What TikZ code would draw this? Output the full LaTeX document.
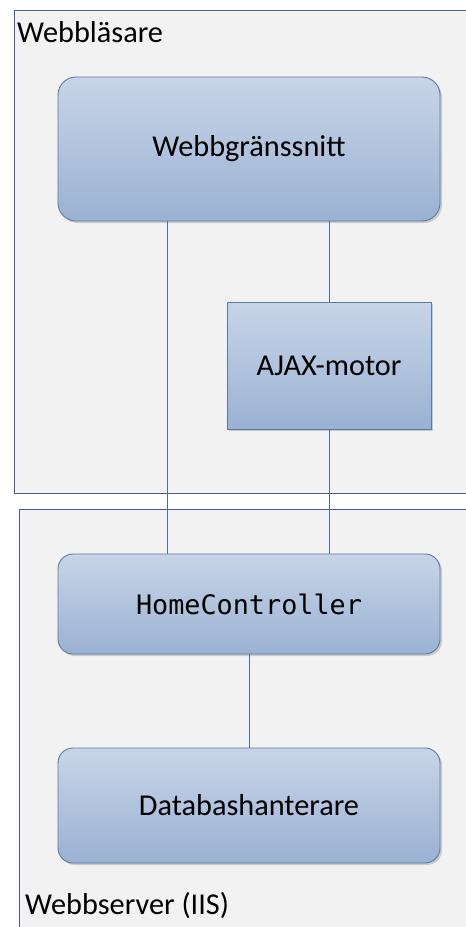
\documentclass[tikz,border=0pt]{standalone}
\usepackage{fontspec}
\setmainfont{Carlito}
\newfontfamily\codefont{DejaVu Sans Mono}
\usetikzlibrary{shadows}
\definecolor{panelfill}{HTML}{F2F2F2}
\definecolor{panelline}{HTML}{41618C}
\definecolor{boxtop}{HTML}{C8D5E8}
\definecolor{boxbot}{HTML}{9AB1D2}
\definecolor{boxline}{HTML}{5B7AA3}
\definecolor{wire}{HTML}{4D6C96}
\tikzset{
  panel/.style={draw=panelline, fill=panelfill, line width=0.9pt},
  comp/.style={draw=boxline, line width=0.9pt, top color=boxtop, bottom color=boxbot,
    inner sep=0pt, text=black, font=\fontsize{30.3}{36}\selectfont,
    drop shadow={opacity=0.35, shadow xshift=2pt, shadow yshift=-2pt}},
  wirestyle/.style={draw=wire, line width=0.9pt},
  lbl/.style={inner sep=0pt, anchor=base west, font=\fontsize{30.3}{36}\selectfont}
}
\begin{document}
\begin{tikzpicture}[x=1pt,y=-1pt]
\useasboundingbox (0,0) rectangle (466,927);
\clip (0,0) rectangle (466,927);
\fill[white] (0,0) rectangle (466,927);
\path[panel] (14,10) rectangle (490,493);
\path[panel] (19,509) rectangle (490,950);
\node[lbl] (lb1) at (17,42) {Webbläsare};
\node[lbl] (lb2) at (25,914) {Webbserver (IIS)};
\node[comp, rounded corners=18pt, minimum width=382pt, minimum height=144pt] (gui) at (249,149) {Webbgränssnitt};
\node[comp, minimum width=204pt, minimum height=127pt] (ajax) at (329,365.5) {AJAX-motor};
\node[comp, rounded corners=15pt, minimum width=382pt, minimum height=100pt, font=\codefont\fontsize{26.8}{33}\selectfont] (hc) at (249,604) {HomeController};
\node[comp, rounded corners=15pt, minimum width=382pt, minimum height=115pt] (db) at (249,805.5) {Databashanterare};
\draw[wirestyle] ([xshift=-82pt]gui.south) -- ([xshift=-82pt]hc.north);
\draw[wirestyle] ([xshift=80pt]gui.south) -- (ajax.north);
\draw[wirestyle] (ajax.south) -- ([xshift=80pt]hc.north);
\draw[wirestyle] (hc.south) -- (db.north);
\end{tikzpicture}
\end{document}
